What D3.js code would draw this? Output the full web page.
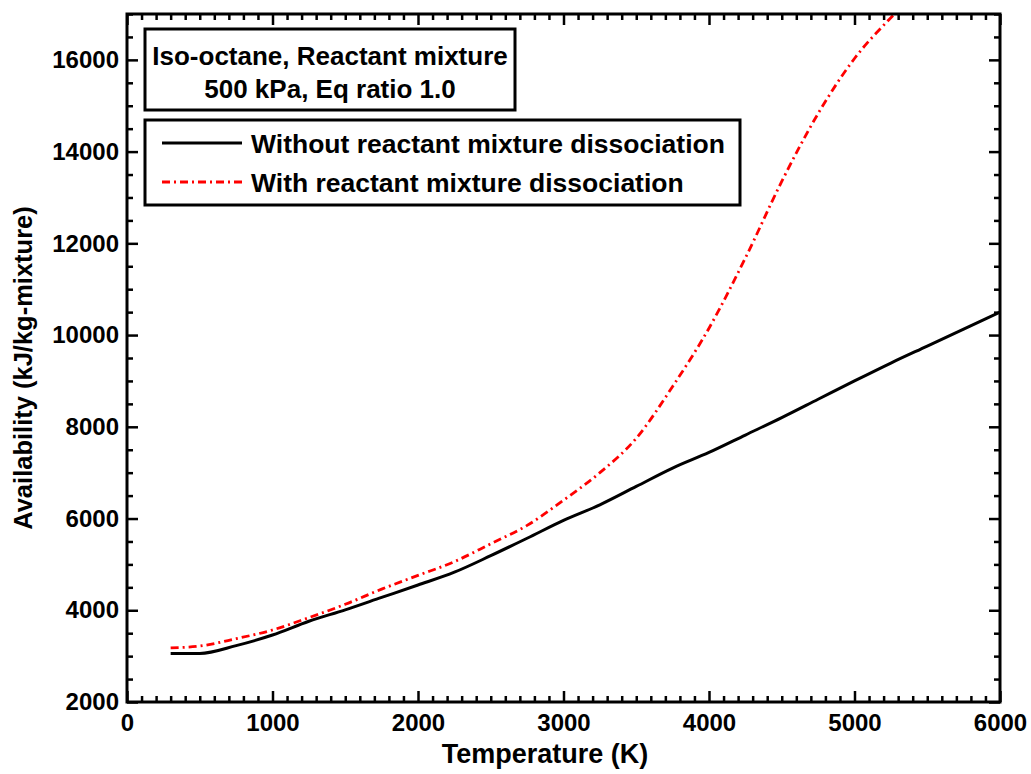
<!DOCTYPE html>
<html>
<head>
<meta charset="utf-8">
<script src="https://cdn.jsdelivr.net/npm/d3@7"></script>
<style>
  body { margin: 0; background: #fff; }
  svg { display: block; }
  text { font-family: "Liberation Sans", Arial, sans-serif; font-weight: bold; fill: #000; }
</style>
</head>
<body>
<svg id="chart" width="1031" height="774"></svg>
<script>
// temperature (K) and availability (kJ/kg-mixture)
var tempsNoDiss = [300, 500, 750, 1000, 1250, 1500, 1750, 2000, 2250, 2500, 2750, 3000,
                   3250, 3500, 3750, 4000, 4250, 4500, 4750, 5000, 5250, 5500, 5750, 6000];
var availNoDiss = [3060, 3060, 3230, 3460, 3760, 4010, 4280, 4550, 4830, 5190, 5570, 5960,
                   6300, 6700, 7100, 7440, 7820, 8200, 8600, 9000, 9390, 9760, 10130, 10500];

var tempsDiss = [300, 500, 750, 1000, 1250, 1500, 1750, 2000, 2250, 2500, 2750, 3000,
                 3250, 3500, 3750, 4000, 4250, 4500, 4750, 5000, 5250, 5400];
var availDiss = [3180, 3220, 3380, 3570, 3840, 4130, 4460, 4760, 5060, 5450, 5850, 6400,
                 7000, 7750, 8880, 10150, 11680, 13350, 14830, 16030, 16920, 17400];

var xTicks = [0, 1000, 2000, 3000, 4000, 5000, 6000];
var yTicks = [2000, 4000, 6000, 8000, 10000, 12000, 14000, 16000];
var titleLines = ['Iso-octane, Reactant mixture', '500 kPa, Eq ratio 1.0'];
var legendLabels = ['Without reactant mixture dissociation', 'With reactant mixture dissociation'];

var margin = {top: 14, left: 127, bottom: 72, right: 31};
var svg = d3.select('#chart');
var width = 1031 - margin.left - margin.right;
var height = 774 - margin.top - margin.bottom;

var x = d3.scaleLinear().domain([0, 6000]).range([0, width]);
var y = d3.scaleLinear().domain([2000, 17000]).range([height, 0]);

var g = svg.append('g')
  .attr('transform', `translate(${margin.left}, ${margin.top})`);

g.append('clipPath').attr('id', 'plot-clip')
  .append('rect').attr('width', width).attr('height', height);

var minorX = d3.range(0, 6001, 100).filter(d => d % 1000 !== 0);
var minorY = d3.range(2000, 17001, 500).filter(d => d % 2000 !== 0);

function styleAxis(sel) {
  sel.select('.domain').remove();
  sel.selectAll('.tick line').attr('stroke', '#000').attr('stroke-width', 2.5);
  sel.selectAll('.tick text').style('font-size', '24px').attr('fill', '#000');
}

// bottom
g.append('g').attr('transform', `translate(0, ${height})`)
  .call(d3.axisBottom(x).tickValues(xTicks).tickSize(-11).tickPadding(12).tickFormat(d3.format('d')))
  .call(styleAxis);
g.append('g').attr('transform', `translate(0, ${height})`)
  .call(d3.axisBottom(x).tickValues(minorX).tickSize(-6).tickFormat(''))
  .call(styleAxis);
// top
g.append('g')
  .call(d3.axisTop(x).tickValues(xTicks).tickSize(-11).tickFormat(''))
  .call(styleAxis);
g.append('g')
  .call(d3.axisTop(x).tickValues(minorX).tickSize(-6).tickFormat(''))
  .call(styleAxis);
// left
g.append('g')
  .call(d3.axisLeft(y).tickValues(yTicks).tickSize(-11).tickPadding(8).tickFormat(d3.format('d')))
  .call(styleAxis);
g.append('g')
  .call(d3.axisLeft(y).tickValues(minorY).tickSize(-6).tickFormat(''))
  .call(styleAxis);
// right
g.append('g').attr('transform', `translate(${width}, 0)`)
  .call(d3.axisRight(y).tickValues(yTicks).tickSize(-11).tickFormat(''))
  .call(styleAxis);
g.append('g').attr('transform', `translate(${width}, 0)`)
  .call(d3.axisRight(y).tickValues(minorY).tickSize(-6).tickFormat(''))
  .call(styleAxis);

var line = d3.line()
  .x(d => x(d[0]))
  .y(d => y(d[1]))
  .curve(d3.curveMonotoneX);

var seriesNoDiss = d3.zip(tempsNoDiss, availNoDiss);
var seriesDiss = d3.zip(tempsDiss, availDiss);

var lines = g.append('g').attr('clip-path', 'url(#plot-clip)');
lines.append('path')
  .datum(seriesNoDiss)
  .attr('d', line)
  .attr('fill', 'none')
  .attr('stroke', '#000')
  .attr('stroke-width', 3);
lines.append('path')
  .datum(seriesDiss)
  .attr('d', line)
  .attr('fill', 'none')
  .attr('stroke', '#ff0000')
  .attr('stroke-width', 2.8)
  .attr('stroke-dasharray', '8,4,2,4');

// frame
g.append('rect')
  .attr('width', width).attr('height', height)
  .attr('fill', 'none').attr('stroke', '#000').attr('stroke-width', 3);

// title box
var titleBox = g.append('g').attr('transform', 'translate(18, 15)');
titleBox.append('rect')
  .attr('width', 370).attr('height', 81)
  .attr('fill', '#fff').attr('stroke', '#000').attr('stroke-width', 3);
titleBox.selectAll('text.title')
  .data(titleLines)
  .join('text')
  .attr('class', 'title')
  .attr('x', 185)
  .attr('y', (d, i) => 36 + i * 33)
  .attr('text-anchor', 'middle')
  .style('font-size', '26px')
  .text(d => d);

// legend
var legend = g.append('g').attr('transform', 'translate(18, 106)');
legend.append('rect')
  .attr('width', 595).attr('height', 85)
  .attr('fill', '#fff').attr('stroke', '#000').attr('stroke-width', 3);
var legendStyles = [
  {stroke: '#000', width: 3, dash: null},
  {stroke: '#ff0000', width: 2.8, dash: '8,4,2,4'}
];
var items = legend.selectAll('g.item')
  .data(legendLabels)
  .join('g')
  .attr('class', 'item')
  .attr('transform', (d, i) => `translate(0, ${23 + i * 39})`);
items.append('line')
  .attr('x1', 17).attr('x2', 97)
  .attr('stroke', (d, i) => legendStyles[i].stroke)
  .attr('stroke-width', (d, i) => legendStyles[i].width)
  .attr('stroke-dasharray', (d, i) => legendStyles[i].dash);
items.append('text')
  .attr('x', 106)
  .attr('y', 10)
  .style('font-size', '26.5px')
  .text(d => d);

// axis titles
svg.append('text')
  .attr('x', 545)
  .attr('y', 763)
  .attr('text-anchor', 'middle')
  .style('font-size', '27px')
  .text('Temperature (K)');
svg.append('text')
  .attr('transform', 'translate(32, 368) rotate(-90)')
  .attr('text-anchor', 'middle')
  .style('font-size', '25.5px')
  .text('Availability (kJ/kg-mixture)');
</script>
</body>
</html>
